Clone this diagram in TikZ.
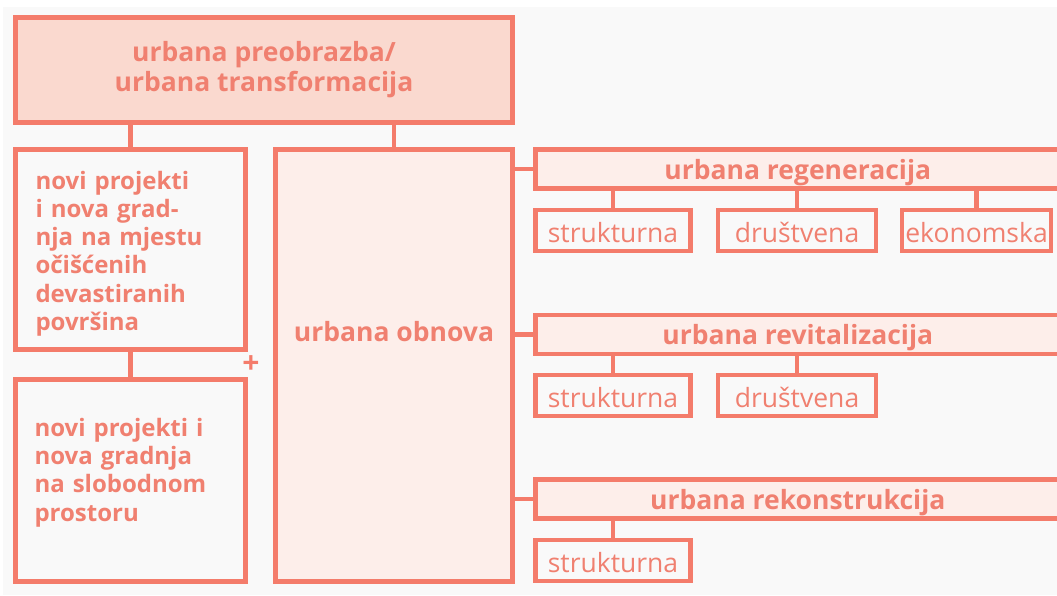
\documentclass[tikz,border=0pt]{standalone}
\usepackage{fontspec}
\setmainfont{Open Sans}
\definecolor{Line}{HTML}{F47C6B}
\definecolor{Ink}{HTML}{F08070}
\definecolor{Peach}{HTML}{FAD9CF}
\definecolor{Blush}{HTML}{FDEEEA}
\definecolor{Back}{HTML}{F9F9F9}

\begin{document}
\begin{tikzpicture}[x = 1pt, y = -1pt,
		box/.style = {draw = Line, line width = 4.5pt, inner sep = 0pt, text = Ink, font = \fontsize{26.5}{30}\selectfont\bfseries},
		words/.style = {text = Ink, inner sep = 0pt, text width = 190pt, align = left, font = \fontsize{24}{28.2}\selectfont\bfseries},
		head/.style = {box, fill = Blush, minimum width = 524.5pt, minimum height = 39pt, text depth = 0pt},
		sub/.style = {box, fill = Back, minimum height = 41pt, text depth = 0pt, text height = 23pt, font = \fontsize{26.5}{30}\selectfont},
		link/.style = {draw = Line, line width = 4.5pt}]
		\useasboundingbox (0,0) rectangle (1057,595);
		\clip (0,0) rectangle (1057,595);
		\fill[white] (0,0) rectangle (1057,595);
		\fill[Back] (3,7) rectangle (1057,595);
		\node[box, fill = Peach, minimum width = 497pt, minimum height = 105pt, align = center] (Preobrazba) at (264,70) {urbana preobrazba/\\urbana transformacija};
		\node[box, fill = Back, minimum width = 230pt, minimum height = 200pt, label = {[words, yshift = -4pt]center:novi projekti\\i nova grad-\\nja na mjestu\\očišćenih\\devastiranih\\površina}] (Mjesto) at (130.5,249.5) {};
		\node[box, fill = Back, minimum width = 230pt, minimum height = 202pt, label = {[words, yshift = 8pt, xshift = -1pt]center:novi projekti i\\nova gradnja\\na slobodnom\\prostoru}] (Slobodno) at (130.5,480.5) {};
		\node[box, fill = Blush, minimum width = 237pt, minimum height = 432pt, label = {[yshift = 33.5pt, text = Ink, font = \fontsize{26.5}{30}\selectfont\bfseries]center:urbana obnova}] (Obnova) at (394,365.5) {};
		\node[text = Line, inner sep = 0pt, font = \fontsize{30}{30}\selectfont\bfseries] (Plus) at (251,365) {+};
		\node[head] (Regeneracija) at (797.75,169) {urbana regeneracija};
		\node[sub, minimum width = 155pt] (RegS) at (613,230.5) {strukturna};
		\node[sub, minimum width = 158pt] (RegD) at (797,230.5) {društvena};
		\node[sub, minimum width = 149pt] (RegE) at (976.5,230.5) {ekonomska};
		\node[head] (Revitalizacija) at (797.75,334.5) {urbana revitalizacija};
		\node[sub, minimum width = 155pt] (RevS) at (613,395.5) {strukturna};
		\node[sub, minimum width = 158pt] (RevD) at (797,395.5) {društvena};
		\node[head] (Rekonstrukcija) at (797.75,499) {urbana rekonstrukcija};
		\node[sub, minimum width = 155pt] (RekS) at (613,560.5) {strukturna};
		\draw[link] (Preobrazba.south -| Mjesto.north) -- (Mjesto.north);
		\draw[link] (Preobrazba.south -| Obnova.north) -- (Obnova.north);
		\draw[link] (Mjesto.south) -- (Slobodno.north);
		\draw[link] (Obnova.east |- Regeneracija.west) -- (Regeneracija.west);
		\draw[link] (Obnova.east |- Revitalizacija.west) -- (Revitalizacija.west);
		\draw[link] (Obnova.east |- Rekonstrukcija.west) -- (Rekonstrukcija.west);
		\draw[link] (Regeneracija.south -| RegS.north) -- (RegS.north);
		\draw[link] (Regeneracija.south -| RegD.north) -- (RegD.north);
		\draw[link] (Regeneracija.south -| RegE.north) -- (RegE.north);
		\draw[link] (Revitalizacija.south -| RevS.north) -- (RevS.north);
		\draw[link] (Revitalizacija.south -| RevD.north) -- (RevD.north);
		\draw[link] (Rekonstrukcija.south -| RekS.north) -- (RekS.north);
	\end{tikzpicture}
\end{document}
